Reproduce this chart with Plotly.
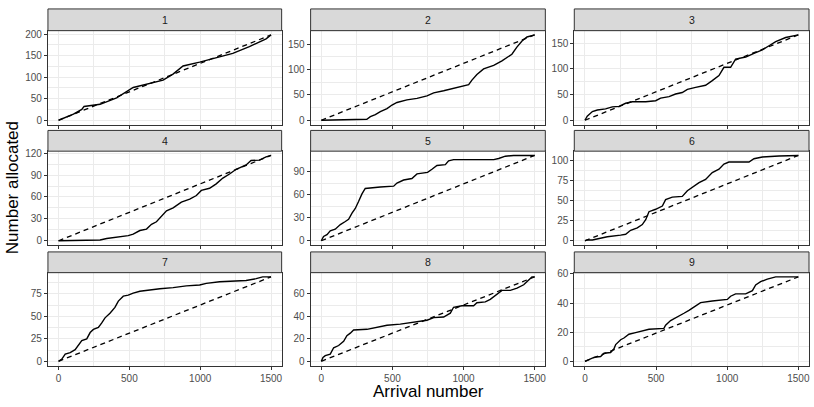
import plotly.graph_objects as go

# ---- data ----
panel_labels = ["1", "2", "3", "4", "5", "6", "7", "8", "9"]

x_p1 = [0, 105, 164, 180, 293, 410, 527, 574, 668, 738, 808, 879, 996, 1113, 1230, 1347, 1418, 1465, 1500]
y_p1 = [0, 14, 25, 32, 37, 52, 76, 80, 87, 93, 107, 126, 135, 145, 155, 171, 181, 189, 198]

x_p2 = [0, 100, 200, 320, 345, 380, 415, 462, 497, 532, 602, 673, 743, 790, 860, 930, 1012, 1036, 1059, 1094, 1141, 1212, 1270, 1340, 1375, 1411, 1446, 1500]
y_p2 = [0, 1, 2, 2, 7, 11, 17, 23, 30, 35, 40, 43, 48, 54, 58, 63, 68, 70, 79, 90, 101, 108, 117, 130, 144, 156, 164, 168]

x_p3 = [0, 16, 52, 87, 145, 192, 239, 286, 333, 427, 497, 532, 591, 637, 684, 720, 778, 848, 895, 942, 977, 1024, 1059, 1130, 1188, 1247, 1294, 1341, 1411, 1458, 1500]
y_p3 = [0, 8, 17, 20, 22, 26, 27, 33, 36, 36, 38, 43, 46, 51, 54, 60, 64, 68, 77, 87, 103, 103, 119, 123, 130, 137, 145, 153, 161, 164, 166]

x_p4 = [0, 152, 293, 340, 410, 492, 527, 574, 621, 656, 691, 727, 762, 809, 867, 926, 973, 1008, 1066, 1113, 1160, 1207, 1254, 1324, 1359, 1418, 1465, 1500]
y_p4 = [0, 0.5, 1, 3, 4.5, 7, 9, 14, 16, 22.5, 26, 33, 41, 45, 53, 57, 62, 69, 72, 78, 86, 91.5, 98, 104, 110, 110.5, 115, 117]

x_p5 = [0, 16, 40, 63, 98, 134, 169, 192, 216, 239, 262, 286, 309, 356, 415, 509, 532, 579, 637, 673, 747, 778, 813, 872, 895, 930, 1212, 1247, 1294, 1352, 1500]
y_p5 = [0, 5.6, 8, 13, 15, 21, 25, 28, 36, 42, 51, 61, 68, 69, 70, 71, 75, 79, 81, 87, 89, 93, 98, 99, 104, 105.5, 105.5, 107, 110, 111, 111]

x_p6 = [0, 16, 52, 98, 157, 251, 286, 321, 368, 403, 427, 450, 497, 544, 567, 614, 684, 720, 767, 802, 848, 895, 942, 977, 1012, 1153, 1188, 1247, 1364, 1500]
y_p6 = [0, 1, 1, 3, 5, 7, 8, 13, 16, 20, 26, 36, 39, 43, 51, 54, 55, 62, 67.5, 72, 76, 84.5, 88.6, 95, 97.5, 97.5, 101.6, 103.7, 105, 105.7]

x_p7 = [0, 23, 47, 82, 117, 141, 164, 199, 223, 246, 281, 305, 328, 363, 398, 422, 457, 492, 527, 574, 644, 715, 809, 902, 996, 1043, 1137, 1277, 1324, 1395, 1441, 1500]
y_p7 = [0, 2.5, 8, 9.7, 13, 18.7, 23, 25, 32, 35.5, 37.7, 42.7, 48.4, 53.5, 60, 67, 72.5, 73.6, 76, 78, 79.6, 80.7, 82, 84, 85, 86.8, 88.6, 89.3, 90, 92, 94, 94]

x_p8 = [0, 12, 28, 63, 87, 122, 157, 180, 204, 227, 321, 391, 462, 555, 649, 743, 790, 860, 907, 930, 989, 1071, 1094, 1153, 1188, 1235, 1270, 1329, 1376, 1423, 1458, 1481, 1500]
y_p8 = [0, 3.4, 5, 6.3, 12, 14, 17.8, 22.7, 25, 27.8, 28.4, 30, 32, 33, 35, 36.5, 38.8, 39.3, 42.8, 48, 49.4, 49.4, 52, 52.8, 55, 59.4, 63, 63, 65, 68, 72.4, 75, 75]

x_p9 = [0, 28, 63, 110, 134, 180, 204, 216, 251, 274, 309, 356, 403, 450, 555, 567, 602, 649, 696, 731, 778, 813, 895, 1001, 1024, 1059, 1130, 1177, 1200, 1235, 1282, 1341, 1500]
y_p9 = [0, 1, 2.7, 3.3, 5.5, 6, 8.6, 11.5, 14.8, 16, 18.6, 19.7, 21, 22, 22.6, 24.8, 28, 30.8, 33, 35, 38, 40.3, 41.4, 42.5, 44.7, 46.3, 46.3, 48.5, 52.5, 54.7, 56.5, 58, 58]

y_dticks = [50, 50, 50, 30, 30, 25, 25, 20, 20]
x_tickvals = [0, 500, 1000, 1500]
arrival_max = 1500

xs = [x_p1, x_p2, x_p3, x_p4, x_p5, x_p6, x_p7, x_p8, x_p9]
ys = [y_p1, y_p2, y_p3, y_p4, y_p5, y_p6, y_p7, y_p8, y_p9]

# ---- layout geometry (pixels) ----
W, H = 814, 407
col_left = [48, 311, 575]
col_right = [282, 546, 810]
strip_top = [5, 128, 251]
panel_top = [27, 149, 272]
panel_bottom = [122, 244, 366]

FONT = "Liberation Sans, Arial, Helvetica, sans-serif"
fig = go.Figure()
layout = dict(
    width=W, height=H, margin=dict(l=0, r=0, t=0, b=0),
    plot_bgcolor="white", paper_bgcolor="white", showlegend=False,
    font=dict(family=FONT),
)
shapes = []
annotations = []

for i in range(9):
    r, c = divmod(i, 3)
    ax = "" if i == 0 else str(i + 1)
    x0, x1 = col_left[c] / W, col_right[c] / W
    y0, y1 = 1 - panel_bottom[r] / H, 1 - panel_top[r] / H
    M = max(ys[i])
    fig.add_trace(go.Scatter(x=xs[i], y=ys[i], mode="lines", line_shape="linear",
                             line=dict(color="black", width=1.4),
                             xaxis="x" + ax, yaxis="y" + ax, hoverinfo="skip"))
    fig.add_trace(go.Scatter(x=[0, arrival_max], y=[0, ys[i][-1]], mode="lines",
                             line=dict(color="black", width=1.3, dash="5px,4px"),
                             xaxis="x" + ax, yaxis="y" + ax, hoverinfo="skip"))
    layout["xaxis" + ax] = dict(
        domain=[x0, x1], anchor="y" + ax, range=[-75, 1575],
        tickvals=x_tickvals, showticklabels=(r == 2),
        ticks="outside", ticklen=3, tickcolor="#333333", tickwidth=1,
        tickfont=dict(size=10, color="#4D4D4D"),
        showgrid=True, gridcolor="#EBEBEB", gridwidth=1.1,
        minor=dict(dtick=250, tick0=0, showgrid=True, gridcolor="#EBEBEB", gridwidth=0.6, ticks=""),
        zeroline=False, showline=True, mirror=True, linecolor="#333333", linewidth=1,
    )
    layout["yaxis" + ax] = dict(
        domain=[y0, y1], anchor="x" + ax, range=[-0.05 * M, 1.05 * M],
        tick0=0, dtick=y_dticks[i],
        ticks="outside", ticklen=3, tickcolor="#333333", tickwidth=1,
        tickfont=dict(size=10, color="#4D4D4D"),
        showgrid=True, gridcolor="#EBEBEB", gridwidth=1.1,
        minor=dict(dtick=y_dticks[i] / 2, tick0=0, showgrid=True, gridcolor="#EBEBEB", gridwidth=0.6, ticks=""),
        zeroline=False, showline=True, mirror=True, linecolor="#333333", linewidth=1,
    )
    # strip
    shapes.append(dict(type="rect", xref="paper", yref="paper",
                       x0=x0, x1=x1, y0=1 - panel_top[r] / H, y1=1 - strip_top[r] / H,
                       fillcolor="#D9D9D9", line=dict(color="#333333", width=1), layer="above"))
    annotations.append(dict(text=panel_labels[i], xref="paper", yref="paper",
                            x=(x0 + x1) / 2, y=1 - (strip_top[r] + panel_top[r]) / 2 / H,
                            xanchor="center", yanchor="middle", showarrow=False,
                            font=dict(size=10.5, color="#1A1A1A", family=FONT)))

annotations.append(dict(text="Arrival number", xref="paper", yref="paper",
                        x=(col_left[0] + col_right[2]) / 2 / W, y=1 - 392 / H,
                        xanchor="center", yanchor="middle", showarrow=False,
                        font=dict(size=17, color="black", family=FONT)))
annotations.append(dict(text="Number allocated", xref="paper", yref="paper",
                        x=12 / W, y=1 - (strip_top[0] + panel_bottom[2]) / 2 / H,
                        xanchor="center", yanchor="middle", showarrow=False, textangle=-90,
                        font=dict(size=17, color="black", family=FONT)))

layout["shapes"] = shapes
layout["annotations"] = annotations
fig.update_layout(**layout)
fig.write_html("out.html", config={"displayModeBar": False},
               post_script="document.body.style.margin='0';document.body.style.overflow='hidden';")
